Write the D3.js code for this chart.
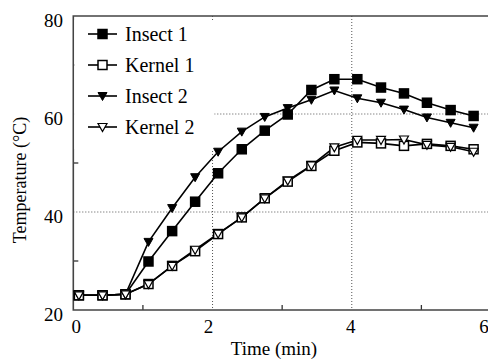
<!DOCTYPE html>
<html>
<head>
<meta charset="utf-8">
<script src="https://cdn.jsdelivr.net/npm/d3@7"></script>
<style>
  body { margin: 0; background: white; }
</style>
</head>
<body>
<div id="chart"></div>
<script>
var w = 488;
var h = 359;
var serif = "Liberation Serif";

// time in minutes, one reading every 20 s
var times = [0.08, 0.42, 0.75, 1.08, 1.42, 1.75, 2.08, 2.42, 2.75, 3.08, 3.42, 3.75, 4.08, 4.42, 4.75, 5.08, 5.42, 5.75];

var insect1 = [23.0, 23.0, 23.2, 29.9, 36.1, 42.1, 47.9, 52.8, 56.6, 59.9, 64.9, 67.1, 67.1, 65.4, 64.2, 62.3, 60.8, 59.6];
var kernel1 = [23.0, 23.0, 23.2, 25.3, 29.0, 32.0, 35.5, 38.9, 42.8, 46.2, 49.4, 52.5, 54.2, 54.0, 53.5, 53.9, 53.5, 52.8];
var insect2 = [23.0, 23.0, 23.2, 33.9, 40.8, 47.1, 52.3, 56.4, 59.4, 61.2, 62.9, 64.8, 63.2, 62.3, 60.9, 59.3, 58.2, 57.2];
var kernel2 = [23.0, 23.0, 23.2, 25.3, 29.0, 32.3, 35.6, 38.9, 42.8, 46.4, 49.5, 53.2, 54.7, 54.7, 54.8, 53.7, 53.3, 52.3];

var seriesNames = ["Insect 1", "Kernel 1", "Insect 2", "Kernel 2"];
var xTicks = [0, 2, 4, 6];
var yTicks = [20, 40, 60, 80];
var xMinor = [1, 3, 5];
var yMinor = [30, 50, 70];

var series = [
  {name: seriesNames[0], values: insect1, shape: "square", fill: "black"},
  {name: seriesNames[1], values: kernel1, shape: "square", fill: "white"},
  {name: seriesNames[2], values: insect2, shape: "tri", fill: "black"},
  {name: seriesNames[3], values: kernel2, shape: "tri", fill: "white"}
];

var xScale = d3.scaleLinear().domain([0, 6]).range([73.3, 491]);
var yScale = d3.scaleLinear().domain([20, 80]).range([310, 16]);

var canvas = d3.select("#chart")
  .append("svg")
  .attr("width", w)
  .attr("height", h)
  .style("background-color", "white");

// dotted grid at the major ticks
canvas.selectAll(".vgrid")
  .data([2, 4])
  .join("line")
  .attr("x1", d => xScale(d)).attr("x2", d => xScale(d))
  .attr("y1", yScale(80)).attr("y2", yScale(20))
  .attr("stroke", "#555").attr("stroke-width", 1)
  .attr("stroke-dasharray", "1,2");

canvas.selectAll(".hgrid")
  .data([40, 60])
  .join("line")
  .attr("x1", xScale(0)).attr("x2", w)
  .attr("y1", d => yScale(d)).attr("y2", d => yScale(d))
  .attr("stroke", "#555").attr("stroke-width", 1)
  .attr("stroke-dasharray", "1,2");

// minor ticks pointing inward
canvas.selectAll(".xminor")
  .data(xMinor)
  .join("line")
  .attr("x1", d => xScale(d)).attr("x2", d => xScale(d))
  .attr("y1", yScale(20)).attr("y2", yScale(20) - 5)
  .attr("stroke", "#333").attr("stroke-width", 1.3);

canvas.selectAll(".yminor")
  .data(yMinor)
  .join("line")
  .attr("x1", xScale(0)).attr("x2", xScale(0) + 5)
  .attr("y1", d => yScale(d)).attr("y2", d => yScale(d))
  .attr("stroke", "#333").attr("stroke-width", 1.3);

// frame
canvas.append("path")
  .attr("d", `M${w},${yScale(80)} H${xScale(0)} V${yScale(20)} H${w}`)
  .attr("fill", "none")
  .attr("stroke", "#444")
  .attr("stroke-width", 1.6);

// legend box hides the grid behind it
canvas.append("rect")
  .attr("x", xScale(0) + 1)
  .attr("y", 20)
  .attr("width", 140)
  .attr("height", 129)
  .attr("fill", "white");

// tick labels
canvas.selectAll(".xlab")
  .data(xTicks)
  .join("text")
  .attr("x", (d, i) => xScale(d) + [3, -4, -1, -7][i])
  .attr("y", 333)
  .attr("text-anchor", "middle")
  .attr("font-family", serif)
  .attr("font-size", 19)
  .text(d => d);

canvas.selectAll(".ylab")
  .data(yTicks)
  .join("text")
  .attr("x", 63)
  .attr("y", d => yScale(d) + 11)
  .attr("text-anchor", "end")
  .attr("font-family", serif)
  .attr("font-size", 19)
  .text(d => d);

canvas.append("text")
  .attr("x", 274)
  .attr("y", 355)
  .attr("text-anchor", "middle")
  .attr("font-family", serif)
  .attr("font-size", 19)
  .text("Time (min)");

canvas.append("text")
  .attr("transform", "translate(26, 180) rotate(-90)")
  .attr("text-anchor", "middle")
  .attr("font-family", serif)
  .attr("font-size", 18)
  .text("Temperature (\u00B0C)");

function marker(g, s) {
  if (s.shape === "square") {
    g.append("rect")
      .attr("x", -4.5).attr("y", -4.5)
      .attr("width", 9).attr("height", 9)
      .attr("fill", s.fill)
      .attr("stroke", "black").attr("stroke-width", 1.5);
  } else {
    g.append("path")
      .attr("d", "M-4.5,-3.5 L4.5,-3.5 L0,4.5 Z")
      .attr("fill", s.fill)
      .attr("stroke", "black").attr("stroke-width", s.fill === "white" ? 1.2 : 1);
  }
}

var line = d3.line()
  .x(d => xScale(d.t))
  .y(d => yScale(d.v));

series.forEach(function(s) {
  var pts = s.values.map((v, i) => ({t: times[i], v: v}));
  canvas.append("path")
    .datum(pts)
    .attr("d", line)
    .attr("fill", "none")
    .attr("stroke", "black")
    .attr("stroke-width", 1.6);
});

series.forEach(function(s) {
  var pts = s.values.map((v, i) => ({t: times[i], v: v}));
  canvas.selectAll(null)
    .data(pts)
    .join("g")
    .attr("transform", d => `translate(${xScale(d.t)}, ${yScale(d.v)})`)
    .each(function() { marker(d3.select(this), s); });
});

// legend
series.forEach(function(s, i) {
  var g = canvas.append("g")
    .attr("transform", `translate(88, ${34 + i * 31})`);
  g.append("line")
    .attr("x1", 0).attr("x2", 29)
    .attr("y1", 0).attr("y2", 0)
    .attr("stroke", "black").attr("stroke-width", 1.6);
  var m = g.append("g").attr("transform", "translate(14.5, 0)");
  marker(m, s);
  g.append("text")
    .attr("x", 37)
    .attr("y", 7)
    .attr("font-family", serif)
    .attr("font-size", 20)
    .text(s.name);
});
</script>
</body>
</html>
